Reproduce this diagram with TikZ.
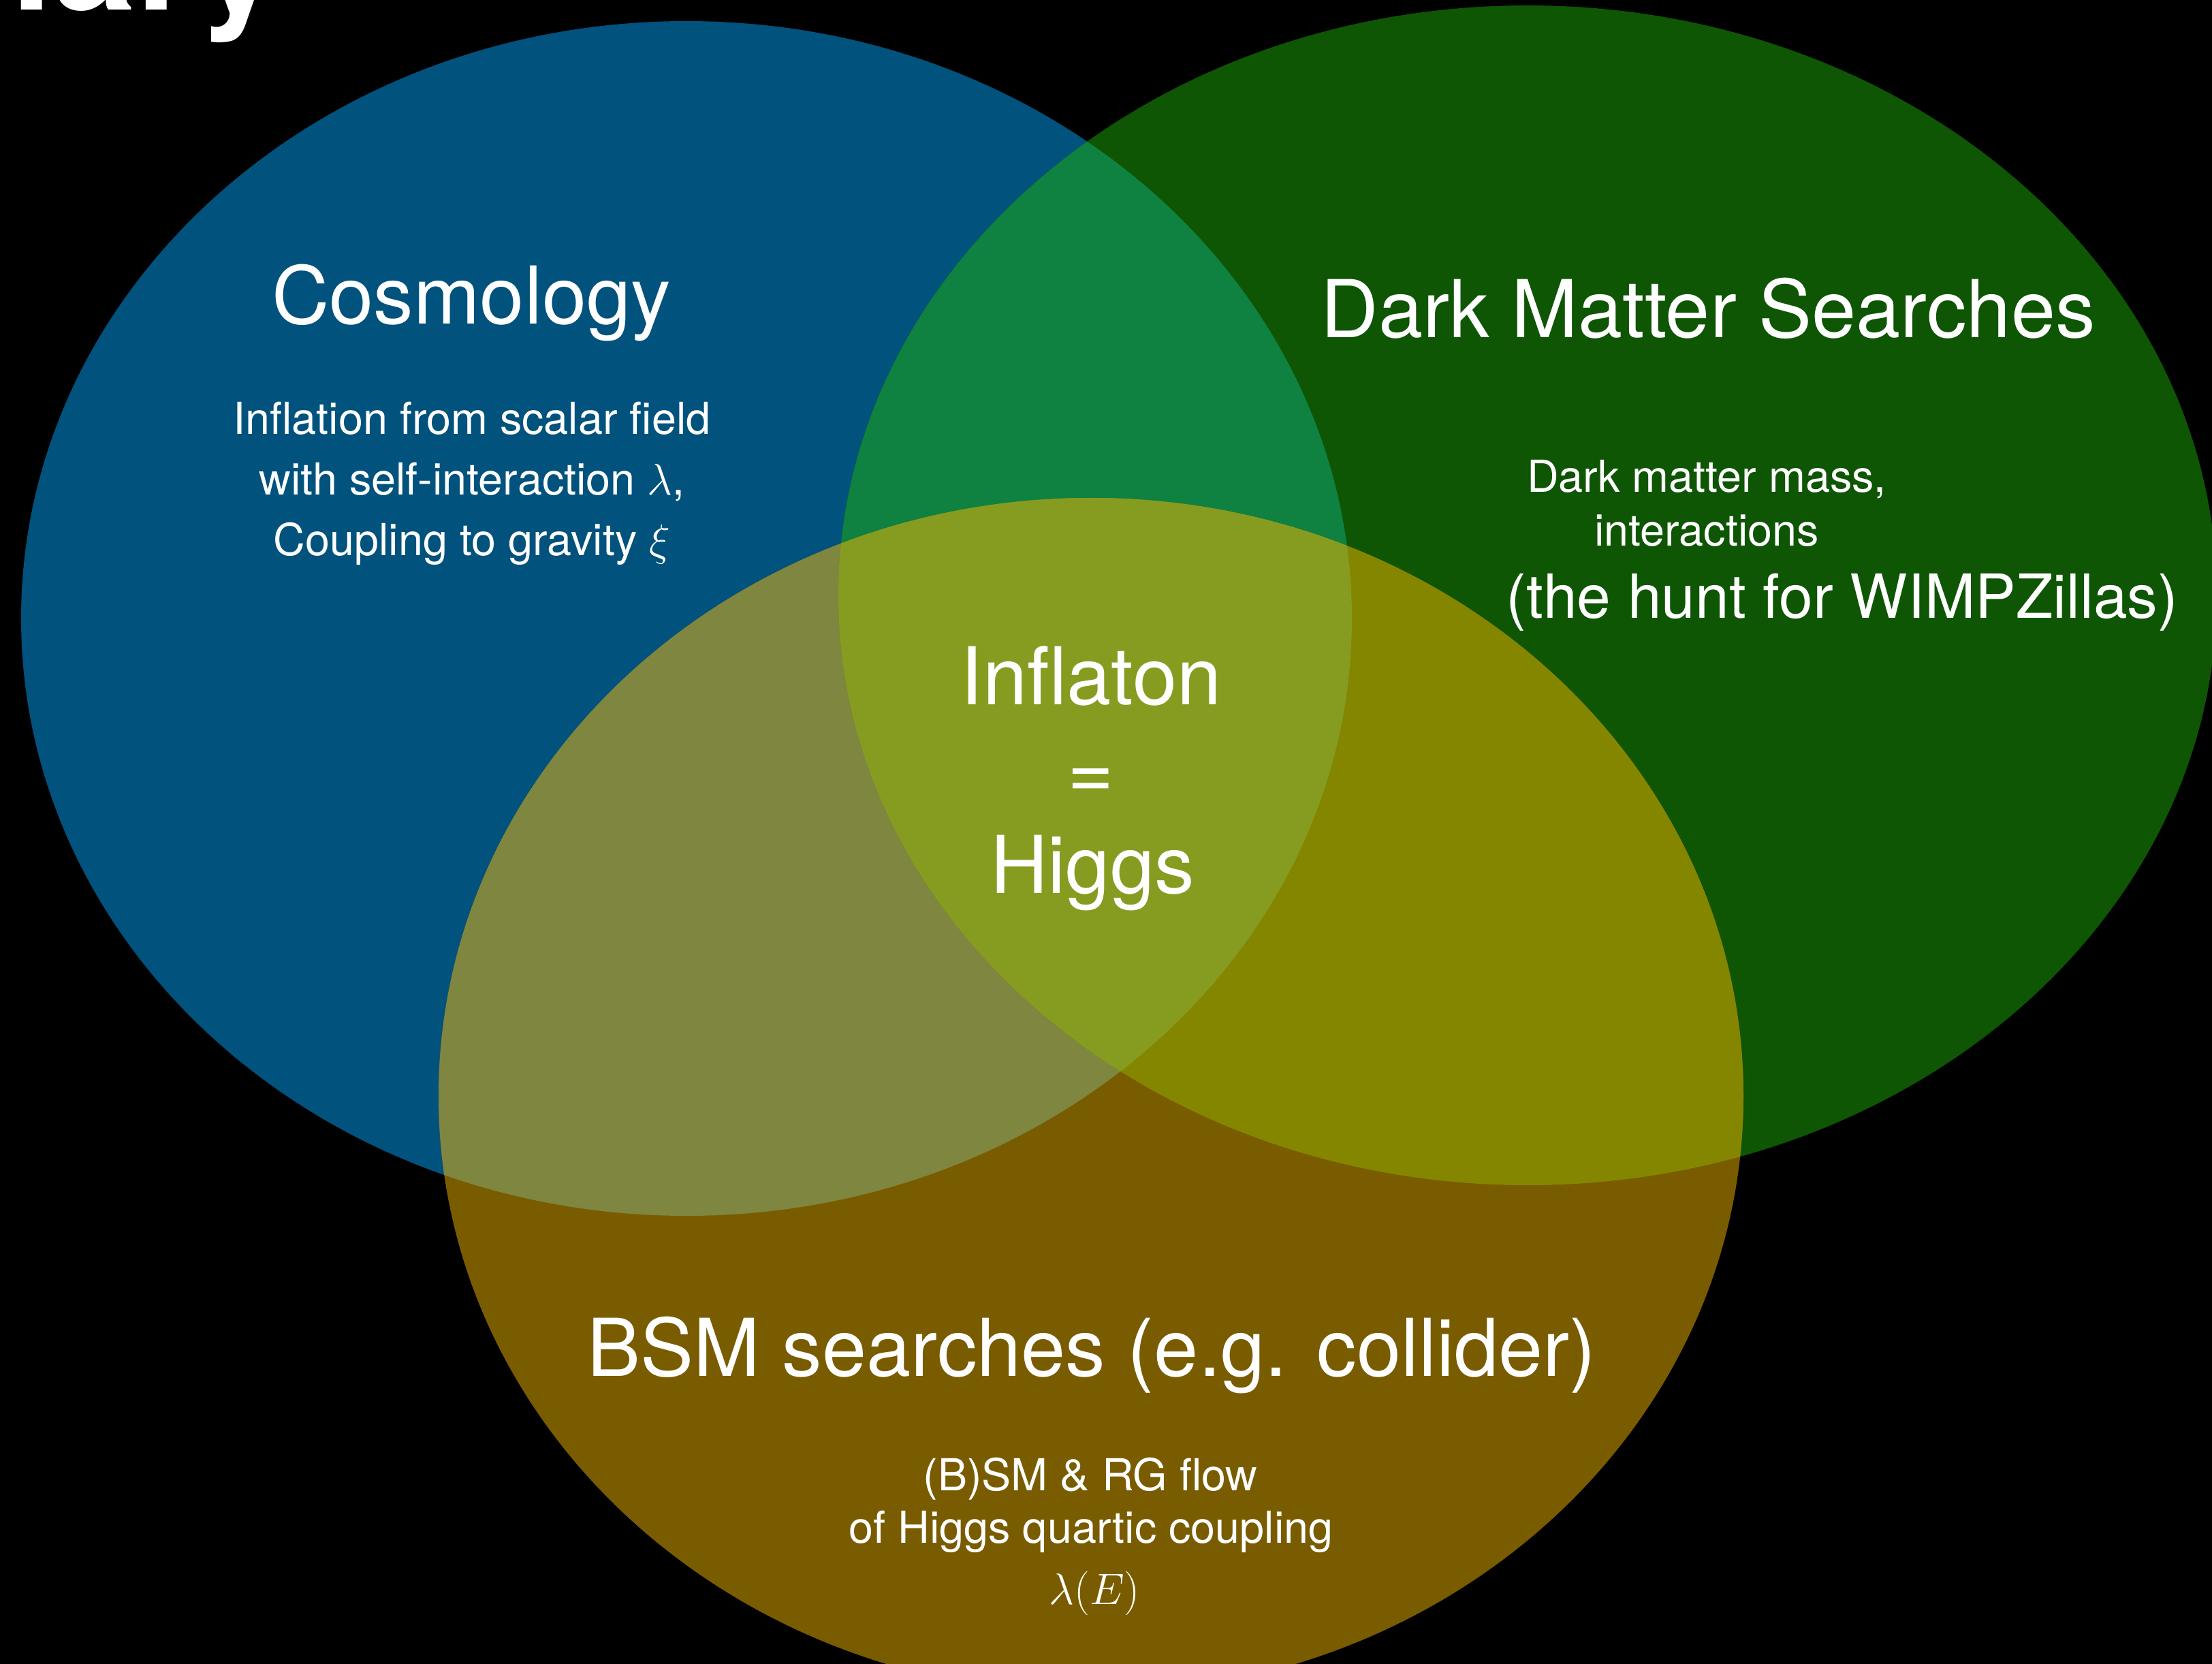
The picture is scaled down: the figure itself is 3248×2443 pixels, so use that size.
\RequirePackage{fix-cm}
\documentclass[tikz,border=0pt]{standalone}
\usepackage[no-math]{fontspec}
\setmainfont{TeX Gyre Heros}
\definecolor{cBlue}{RGB}{1,82,125}
\definecolor{cGreen}{RGB}{14,86,4}
\definecolor{cBrown}{RGB}{122,92,0}
\definecolor{cBG}{RGB}{15,129,64}
\definecolor{cBB}{RGB}{126,134,64}
\definecolor{cGB}{RGB}{133,134,0}
\definecolor{cAll}{RGB}{134,156,33}
\tikzset{
  blueell/.style={insert path={(1008,908) ellipse [x radius=977, y radius=877]}},
  greenell/.style={insert path={(2243,874) ellipse [x radius=1012, y radius=866]}},
  brownell/.style={insert path={(1602,1609) ellipse [x radius=958, y radius=878]}},
  lbl/.style={text=white, inner sep=0pt, anchor=base},
  bigtxt/.style={lbl, font=\fontsize{33.3pt}{40pt}\selectfont},
  subtxt/.style={lbl, font=\fontsize{18.4pt}{22pt}\selectfont},
  midtxt/.style={lbl, font=\fontsize{25.4pt}{30pt}\selectfont}
}
\begin{document}
\begin{tikzpicture}[x=0.01cm, y=-0.01cm]
\useasboundingbox (0,0) rectangle (3248,2443);
\clip (0,0) rectangle (3248,2443);
\fill[black] (0,0) rectangle (3248,2443);
% base sets
\fill[cBlue, blueell];
\fill[cGreen, greenell];
\fill[cBrown, brownell];
% pairwise overlaps
\begin{scope}
  \clip[blueell];
  \fill[cBG, greenell];
\end{scope}
\begin{scope}
  \clip[blueell];
  \fill[cBB, brownell];
\end{scope}
\begin{scope}
  \clip[greenell];
  \fill[cGB, brownell];
\end{scope}
% triple overlap
\begin{scope}
  \clip[blueell];
  \clip[greenell];
  \fill[cAll, brownell];
\end{scope}
% title fragment
\node[text=white, inner sep=0pt, anchor=base west, font=\fontsize{62.6pt}{70pt}\selectfont\bfseries] (title) at (16,15) {iary};
% Cosmology
\node[bigtxt] (cosmo) at (692,476) {Cosmology};
\node[subtxt] (cos1) at (693,638) {Inflation from scalar field};
\node[subtxt] (cos2) at (693,727) {with self-interaction $\lambda$,};
\node[subtxt] (cos3) at (693,816) {Coupling to gravity $\xi$};
% Dark matter
\node[bigtxt] (dms) at (2508,496) {Dark Matter Searches};
\node[subtxt] (dm1) at (2506,723) {Dark matter mass,};
\node[subtxt] (dm2) at (2506,801) {interactions};
\node[midtxt] (dm3) at (2705,907) {(the hunt for WIMPZillas)};
% Centre
\node[bigtxt] (infl) at (1602,1034) {Inflaton};
\node[bigtxt] (eq) at (1602,1172) {=};
\node[bigtxt] (higgs) at (1604,1311) {Higgs};
% BSM
\node[bigtxt] (bsm) at (1603,2020) {BSM searches (e.g. collider)};
\node[subtxt] (bsm1) at (1601,2188) {(B)SM \& RG flow};
\node[subtxt] (bsm2) at (1602,2265) {of Higgs quartic coupling};
\node[subtxt] (bsm3) at (1607,2355) {$\lambda(E)$};
\end{tikzpicture}
\end{document}
